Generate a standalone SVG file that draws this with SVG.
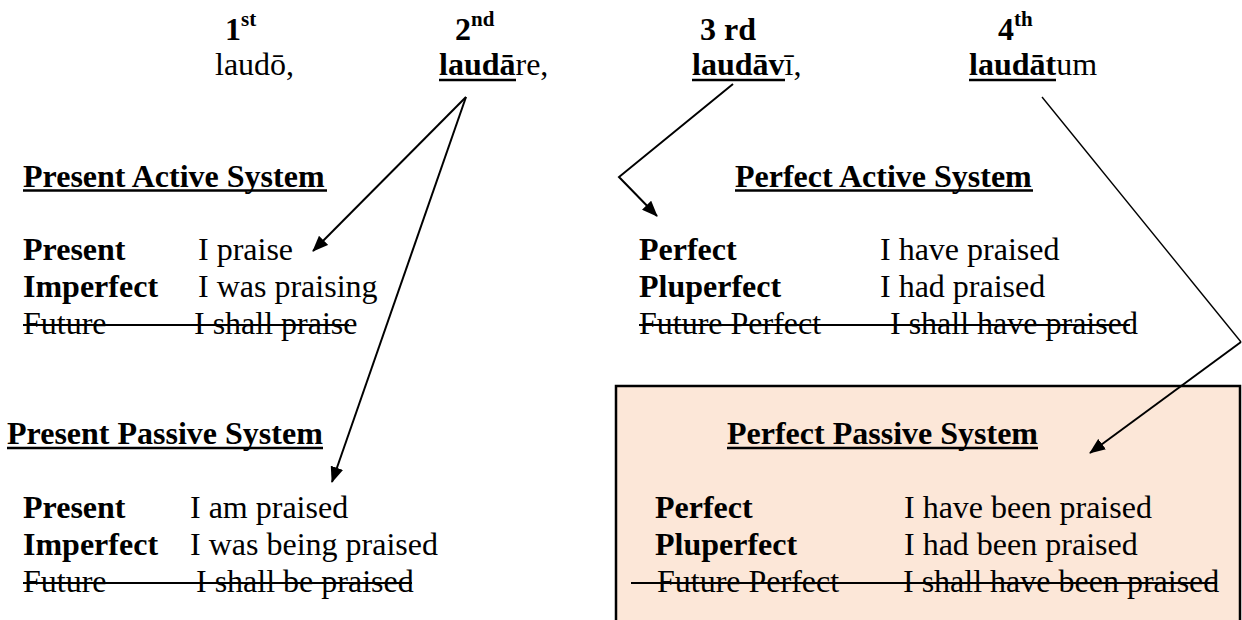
<svg xmlns="http://www.w3.org/2000/svg" width="1242" height="620" viewBox="0 0 1242 620">
<style>
  text { font-family: "Liberation Serif", "Times New Roman", serif; font-size: 32px; fill: #000; }
  .b { font-weight: bold; }
  .sup { font-size: 21px; font-weight: bold; }
  .ul { stroke: #000; stroke-width: 2.5; }
  .st { stroke: #000; stroke-width: 2; }
  .conn { fill: none; stroke: #000; stroke-width: 2; }
  .thin { stroke-width: 1.4; }
  .box { fill: #FCE7D8; stroke: #000; stroke-width: 2.5; }
</style>
<defs>
  <marker id="ah" viewBox="0 0 16 13" refX="15" refY="6.5" markerWidth="16" markerHeight="13" markerUnits="userSpaceOnUse" orient="auto">
    <path d="M0,0 L16,6.5 L0,13 z" fill="#000"/>
  </marker>
</defs>

<g id="stem1">
  <text x="225" y="40" class="b">1<tspan class="sup" dy="-14">st</tspan></text>
  <text x="215" y="75">laudō,</text>
</g>
<g id="stem2">
  <text x="455" y="40" class="b">2<tspan class="sup" dy="-14">nd</tspan></text>
  <text x="439" y="75"><tspan class="b">laudā</tspan>re,</text>
  <line class="ul" x1="439" y1="80" x2="516" y2="80"/>
</g>
<g id="stem3">
  <text x="700" y="40" class="b">3 rd</text>
  <text x="692" y="75"><tspan class="b">laudāv</tspan>ī,</text>
  <line class="ul" x1="692" y1="80" x2="785" y2="80"/>
</g>
<g id="stem4">
  <text x="998" y="40" class="b">4<tspan class="sup" dy="-14">th</tspan></text>
  <text x="969" y="75"><tspan class="b">laudāt</tspan>um</text>
  <line class="ul" x1="969" y1="80" x2="1056" y2="80"/>
</g>

<g id="present-active">
  <text x="23" y="187" class="b">Present Active System</text>
  <line class="ul" x1="23" y1="190.5" x2="327" y2="190.5"/>
  <text x="23" y="260" class="b">Present</text>
  <text x="198" y="260">I praise</text>
  <text x="23" y="297" class="b">Imperfect</text>
  <text x="198" y="297">I was praising</text>
  <text x="23" y="334">Future</text>
  <text x="194" y="334">I shall praise</text>
  <line class="st" x1="23" y1="325" x2="349" y2="325"/>
</g>

<g id="perfect-active">
  <text x="735" y="187" class="b">Perfect Active System</text>
  <line class="ul" x1="735" y1="190.5" x2="1033" y2="190.5"/>
  <text x="639" y="260" class="b">Perfect</text>
  <text x="880" y="260">I have praised</text>
  <text x="639" y="297" class="b">Pluperfect</text>
  <text x="880" y="297">I had praised</text>
  <text x="639" y="334">Future Perfect</text>
  <text x="890" y="334">I shall have praised</text>
  <line class="st" x1="639" y1="325" x2="1130" y2="325"/>
</g>

<g id="present-passive">
  <text x="7" y="444" class="b">Present Passive System</text>
  <line class="ul" x1="7" y1="448" x2="323" y2="448"/>
  <text x="23" y="518" class="b">Present</text>
  <text x="190" y="518">I am praised</text>
  <text x="23" y="555" class="b">Imperfect</text>
  <text x="190" y="555">I was being praised</text>
  <text x="23" y="592">Future</text>
  <text x="196" y="592">I shall be praised</text>
  <line class="st" x1="23" y1="583" x2="412" y2="583"/>
</g>

<g id="perfect-passive">
  <rect class="box" x="616" y="386" width="624" height="260"/>
  <text x="727" y="444" class="b">Perfect Passive System</text>
  <line class="ul" x1="727" y1="448" x2="1038" y2="448"/>
  <text x="655" y="518" class="b">Perfect</text>
  <text x="904" y="518">I have been praised</text>
  <text x="655" y="555" class="b">Pluperfect</text>
  <text x="904" y="555">I had been praised</text>
  <text x="657" y="592">Future Perfect</text>
  <text x="903" y="592">I shall have been praised</text>
  <line class="st" x1="631" y1="583" x2="1217" y2="583"/>
</g>

<g id="connectors">
  <path class="conn" d="M466,97 L313,251" marker-end="url(#ah)"/>
  <path class="conn" d="M466,97 L332,482" marker-end="url(#ah)"/>
  <path class="conn" d="M733,84 L619,177 L657,216" marker-end="url(#ah)"/>
  <path class="conn thin" d="M1042,97 L1241,342"/>
  <path class="conn" d="M1241,342 L1090,453" marker-end="url(#ah)"/>
</g>
</svg>
